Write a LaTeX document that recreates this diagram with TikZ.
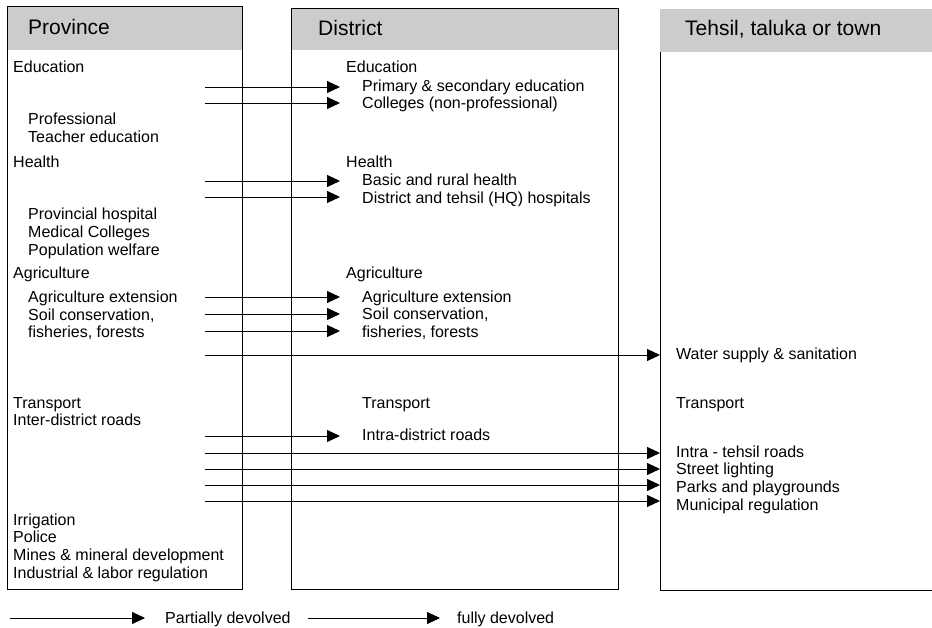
\documentclass[tikz,border=0pt]{standalone}
\usepackage{fontspec}
\setmainfont{Liberation Sans}
\usetikzlibrary{arrows.meta}

\tikzset{
  col/.style={draw, line width=0.8pt},
  head/.style={fill=black!20},
  htxt/.style={anchor=west, inner sep=0, font=\fontsize{21}{25}\selectfont},
  txt/.style={anchor=west, inner sep=0, text height=11.5pt, text depth=0pt, font=\fontsize{16}{18}\selectfont},
  devolve/.style={line width=0.8pt, -{Triangle[length=13pt,width=12pt]}}
}

\begin{document}
\begin{tikzpicture}[x=1pt, y=-1pt]
\useasboundingbox (0,0) rectangle (932,628);

% the three columns
\fill [head] (7,6) rectangle (242,50);
\draw [col] (7,6) rectangle (242,589);
\fill [head] (291,8) rectangle (618,50);
\draw [col] (291,8) rectangle (618,589);
\fill [head] (660,9) rectangle (940,52);
\draw [col] (940,590) -- (660,590) -- (660,52);

\node [htxt] (prov) at (28,27) {Province};
\node [htxt] (dist) at (318,28) {District};
\node [htxt] (town) at (685,29) {Tehsil, taluka or town};

% province
\node [txt] (pedu) at (13,67) {Education};
\node [txt] (pprof) at (28,119) {Professional};
\node [txt] (pteach) at (28,137) {Teacher education};
\node [txt] (phealth) at (13,162) {Health};
\node [txt] (phosp) at (28,214) {Provincial hospital};
\node [txt] (pmed) at (28,232) {Medical Colleges};
\node [txt] (ppop) at (28,250) {Population welfare};
\node [txt] (pagri) at (13,273) {Agriculture};
\node [txt] (pext) at (28,297) {Agriculture extension};
\node [txt] (psoil) at (28,315) {Soil conservation,};
\node [txt] (pfish) at (28,332) {fisheries, forests};
\node [txt] (ptrans) at (13,403) {Transport};
\node [txt] (proads) at (13,420) {Inter-district roads};
\node [txt] (pirr) at (13,520) {Irrigation};
\node [txt] (ppol) at (13,537) {Police};
\node [txt] (pmines) at (13,555) {Mines \& mineral development};
\node [txt] (pind) at (13,573) {Industrial \& labor regulation};

% district
\node [txt] (dedu) at (346,67) {Education};
\node [txt] (dprim) at (362,86) {Primary \& secondary education};
\node [txt] (dcoll) at (362,103) {Colleges (non-professional)};
\node [txt] (dhealth) at (346,162) {Health};
\node [txt] (dbasic) at (362,180) {Basic and rural health};
\node [txt] (dhosp) at (362,198) {District and tehsil (HQ) hospitals};
\node [txt] (dagri) at (346,273) {Agriculture};
\node [txt] (dext) at (362,297) {Agriculture extension};
\node [txt] (dsoil) at (362,314) {Soil conservation,};
\node [txt] (dfish) at (362,332) {fisheries, forests};
\node [txt] (dtrans) at (362,403) {Transport};
\node [txt] (droads) at (362,435) {Intra-district roads};

% tehsil
\node [txt] (twater) at (676,354) {Water supply \& sanitation};
\node [txt] (ttrans) at (676,403) {Transport};
\node [txt] (troads) at (676,452) {Intra - tehsil roads};
\node [txt] (tlight) at (676,469) {Street lighting};
\node [txt] (tparks) at (676,487) {Parks and playgrounds};
\node [txt] (tmun) at (676,505) {Municipal regulation};

% arrow ends
\coordinate (s1) at (205,87);   \coordinate (e1) at (340,87);
\coordinate (s2) at (205,103);  \coordinate (e2) at (340,103);
\coordinate (s3) at (205,181);  \coordinate (e3) at (340,181);
\coordinate (s4) at (205,197);  \coordinate (e4) at (340,197);
\coordinate (s5) at (205,297);  \coordinate (e5) at (340,297);
\coordinate (s6) at (205,314);  \coordinate (e6) at (340,314);
\coordinate (s7) at (205,331);  \coordinate (e7) at (340,331);
\coordinate (s8) at (205,355);  \coordinate (e8) at (660,355);
\coordinate (s9) at (205,436);  \coordinate (e9) at (340,436);
\coordinate (s10) at (205,453); \coordinate (e10) at (660,453);
\coordinate (s11) at (205,469); \coordinate (e11) at (660,469);
\coordinate (s12) at (205,485); \coordinate (e12) at (660,485);
\coordinate (s13) at (205,501); \coordinate (e13) at (660,501);

\draw [devolve] (s1) -- (e1);
\draw [devolve] (s2) -- (e2);
\draw [devolve] (s3) -- (e3);
\draw [devolve] (s4) -- (e4);
\draw [devolve] (s5) -- (e5);
\draw [devolve] (s6) -- (e6);
\draw [devolve] (s7) -- (e7);
\draw [devolve] (s8) -- (e8);
\draw [devolve] (s9) -- (e9);
\draw [devolve] (s10) -- (e10);
\draw [devolve] (s11) -- (e11);
\draw [devolve] (s12) -- (e12);
\draw [devolve] (s13) -- (e13);

% legend
\coordinate (l1s) at (10,618);  \coordinate (l1e) at (145,618);
\coordinate (l2s) at (308,618); \coordinate (l2e) at (440,618);
\draw [devolve] (l1s) -- (l1e);
\draw [devolve] (l2s) -- (l2e);
\node [txt] (lpart) at (165,618) {Partially devolved};
\node [txt] (lfull) at (457,618) {fully devolved};
\end{tikzpicture}
\end{document}
